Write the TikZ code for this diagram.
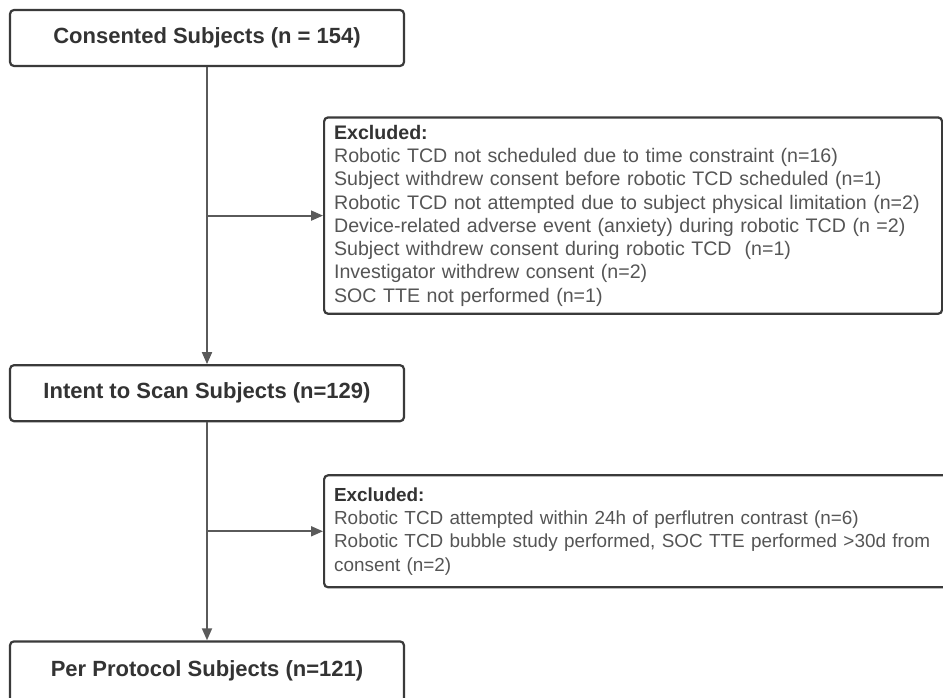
\documentclass[tikz,border=0pt]{standalone}
\usepackage{fontspec}
\setmainfont{Liberation Sans}
\usepackage{tikz}
\usetikzlibrary{arrows.meta,positioning,calc}

\definecolor{boxline}{HTML}{3A3A3A}
\definecolor{arrowgray}{HTML}{5A5A5A}
\definecolor{titletext}{HTML}{333333}
\definecolor{listtext}{HTML}{555555}

\begin{document}
\begin{tikzpicture}[x=1pt, y=-1pt,
    stagebox/.style={draw=boxline, line width=2.2pt, rounded corners=4pt, fill=white, minimum width=394pt, minimum height=56pt, inner sep=0pt, align=center, text=titletext, font=\fontsize{22}{26}\selectfont\bfseries},
    exclbox/.style={draw=boxline, line width=2.2pt, rounded corners=4pt, fill=white, text width=598pt, inner xsep=10pt, inner ysep=7.5pt, align=left, text=listtext, font=\fontsize{19.6}{23.3}\selectfont},
    flow/.style={draw=arrowgray, line width=1.8pt, -{Triangle[length=12pt,width=10pt]}}]
    \clip (0,0) rectangle (943,698);
    \fill[white] (0,0) rectangle (943,698);

    % Étapes principales
    \node[stagebox] (consented) at (207,38) {Consented Subjects (n = 154)};
    \node[stagebox, below=297pt of consented] (intent) {Intent to Scan Subjects (n=129)};
    \node[stagebox, below=218pt of intent, minimum height=0pt, text height=35pt, text depth=30pt] (perprotocol) {Per Protocol Subjects (n=121)};

    % Points de séparation
    \coordinate (split1) at ($(consented.south)!0.5!(intent.north)$);
    \coordinate (split2) at ($(intent.south)!0.5!(perprotocol.north)$);

    % Exclusions
    \node[exclbox, right=116pt of split1] (excluded1) {{\bfseries\color{titletext}Excluded:}\\
        Robotic TCD not scheduled due to time constraint (n=16)\\
        Subject withdrew consent before robotic TCD scheduled (n=1)\\
        Robotic TCD not attempted due to subject physical limitation (n=2)\\
        Device-related adverse event (anxiety) during robotic TCD (n =2)\\
        Subject withdrew consent during robotic TCD\ \ (n=1)\\
        Investigator withdrew consent (n=2)\\
        SOC TTE not performed (n=1)};
    \node[exclbox, right=116pt of split2, minimum height=112pt, text width=620pt, font=\fontsize{18.9}{23.3}\selectfont] (excluded2) {{\bfseries\color{titletext}Excluded:}\\
        Robotic TCD attempted within 24h of perflutren contrast (n=6)\\
        Robotic TCD bubble study performed, SOC TTE performed >30d from\\
        consent (n=2)};

    % Flèches
    \draw[flow] (consented) -- (intent);
    \draw[flow] (intent) -- (perprotocol);
    \draw[flow] (split1) -- (excluded1);
    \draw[flow] (split2) -- (excluded2);
\end{tikzpicture}
\end{document}
